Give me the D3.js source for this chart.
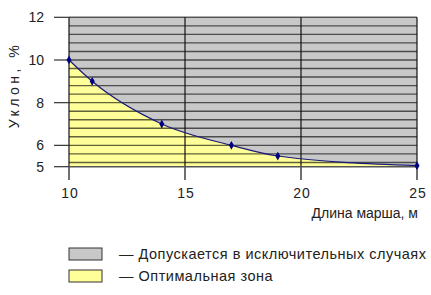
<!DOCTYPE html>
<html><head><meta charset="utf-8">
<script src="https://cdn.jsdelivr.net/npm/d3@7"></script>
<style>body{margin:0;background:#fff}text{font-family:Arial,"Liberation Sans",sans-serif}</style>
</head><body>
<svg id="c" width="431" height="295"></svg>
<script>
const lengths = [10, 11, 14, 17, 19, 25];
const slopes = [10, 9, 7, 6, 5.5, 5.05];
const markerLengths = [10, 11, 14, 17, 19, 25];
const xTicks = [10, 15, 20, 25];
const yTicks = [12, 10, 8, 6, 5];
const legendLabels = ["— Допускается в исключительных случаях", "— Оптимальная зона"];
const legendColors = ["#c8c8c8", "#ffff99"];

const svg = d3.select("#c");
const x = d3.scaleLinear().domain([10, 25]).range([69, 417]);
const y = d3.scaleLinear().domain([5, 12]).range([166.7, 17.3]);
const data = lengths.map((d, i) => ({x: d, y: slopes[i]}));
const curve = d3.curveMonotoneX;

svg.append("rect").attr("x", x(10)).attr("y", y(12))
  .attr("width", x(25) - x(10)).attr("height", y(5) - y(12)).attr("fill", legendColors[0]);
svg.append("path").datum(data)
  .attr("d", d3.area().x(d => x(d.x)).y0(y(5)).y1(d => y(d.y)).curve(curve))
  .attr("fill", legendColors[1]);

const stripes = d3.range(0, 18).map(i => 12 - i * 0.4);
svg.append("g").selectAll("line").data(stripes).join("line")
  .attr("x1", x(10)).attr("x2", x(25)).attr("y1", d => y(d)).attr("y2", d => y(d))
  .attr("stroke", "#000").attr("stroke-opacity", 0.62).attr("stroke-width", 1.4);

svg.append("g").selectAll("line").data(xTicks).join("line")
  .attr("x1", d => x(d)).attr("x2", d => x(d)).attr("y1", y(12)).attr("y2", 180)
  .attr("stroke", "#111").attr("stroke-width", 1.2);

svg.append("line").attr("x1", x(10)).attr("x2", x(25)).attr("y1", y(5)).attr("y2", y(5))
  .attr("stroke", "#555").attr("stroke-width", 1.4);

svg.append("g").selectAll("line").data(yTicks).join("line")
  .attr("x1", 54).attr("x2", x(10)).attr("y1", d => y(d)).attr("y2", d => y(d))
  .attr("stroke", "#333").attr("stroke-width", 1.2);
svg.append("g").selectAll("text").data(yTicks).join("text")
  .attr("x", 44).attr("y", d => y(d) + 5).attr("text-anchor", "end")
  .attr("font-size", 14).attr("fill", "#222").text(d => d);

svg.append("g").selectAll("text").data(xTicks).join("text")
  .attr("x", d => x(d) + 1).attr("y", 198).attr("text-anchor", "middle")
  .attr("font-size", 14).attr("letter-spacing", 1).attr("fill", "#222").text(d => d);

svg.append("path").datum(data)
  .attr("d", d3.line().x(d => x(d.x)).y(d => y(d.y)).curve(curve))
  .attr("fill", "none").attr("stroke", "#1a1a7a").attr("stroke-width", 1.2);
svg.append("g").selectAll("path").data(data.filter(d => markerLengths.includes(d.x))).join("path")
  .attr("transform", d => `translate(${x(d.x)},${y(d.y)})`)
  .attr("d", d3.symbol().type(d3.symbolDiamond).size(22))
  .attr("fill", "#000080");

svg.append("text").attr("transform", "translate(19,85) rotate(-90)")
  .attr("text-anchor", "middle").attr("font-size", 14).attr("letter-spacing", 3.5)
  .attr("fill", "#222").text("Уклон, %");
svg.append("text").attr("x", 418).attr("y", 218).attr("text-anchor", "end")
  .attr("font-size", 14).attr("fill", "#222").text("Длина марша, м");

const lg = svg.append("g").selectAll("g").data(legendLabels).join("g")
  .attr("transform", (d, i) => `translate(69,${248 + i * 22})`);
lg.append("rect").attr("width", 33).attr("height", 12)
  .attr("fill", (d, i) => legendColors[i]).attr("stroke", "#333").attr("stroke-width", 1);
lg.append("text").attr("x", 50).attr("y", 11).attr("font-size", 14.5).attr("letter-spacing", 0.5)
  .attr("fill", "#222").text(d => d);
</script>
</body></html>
